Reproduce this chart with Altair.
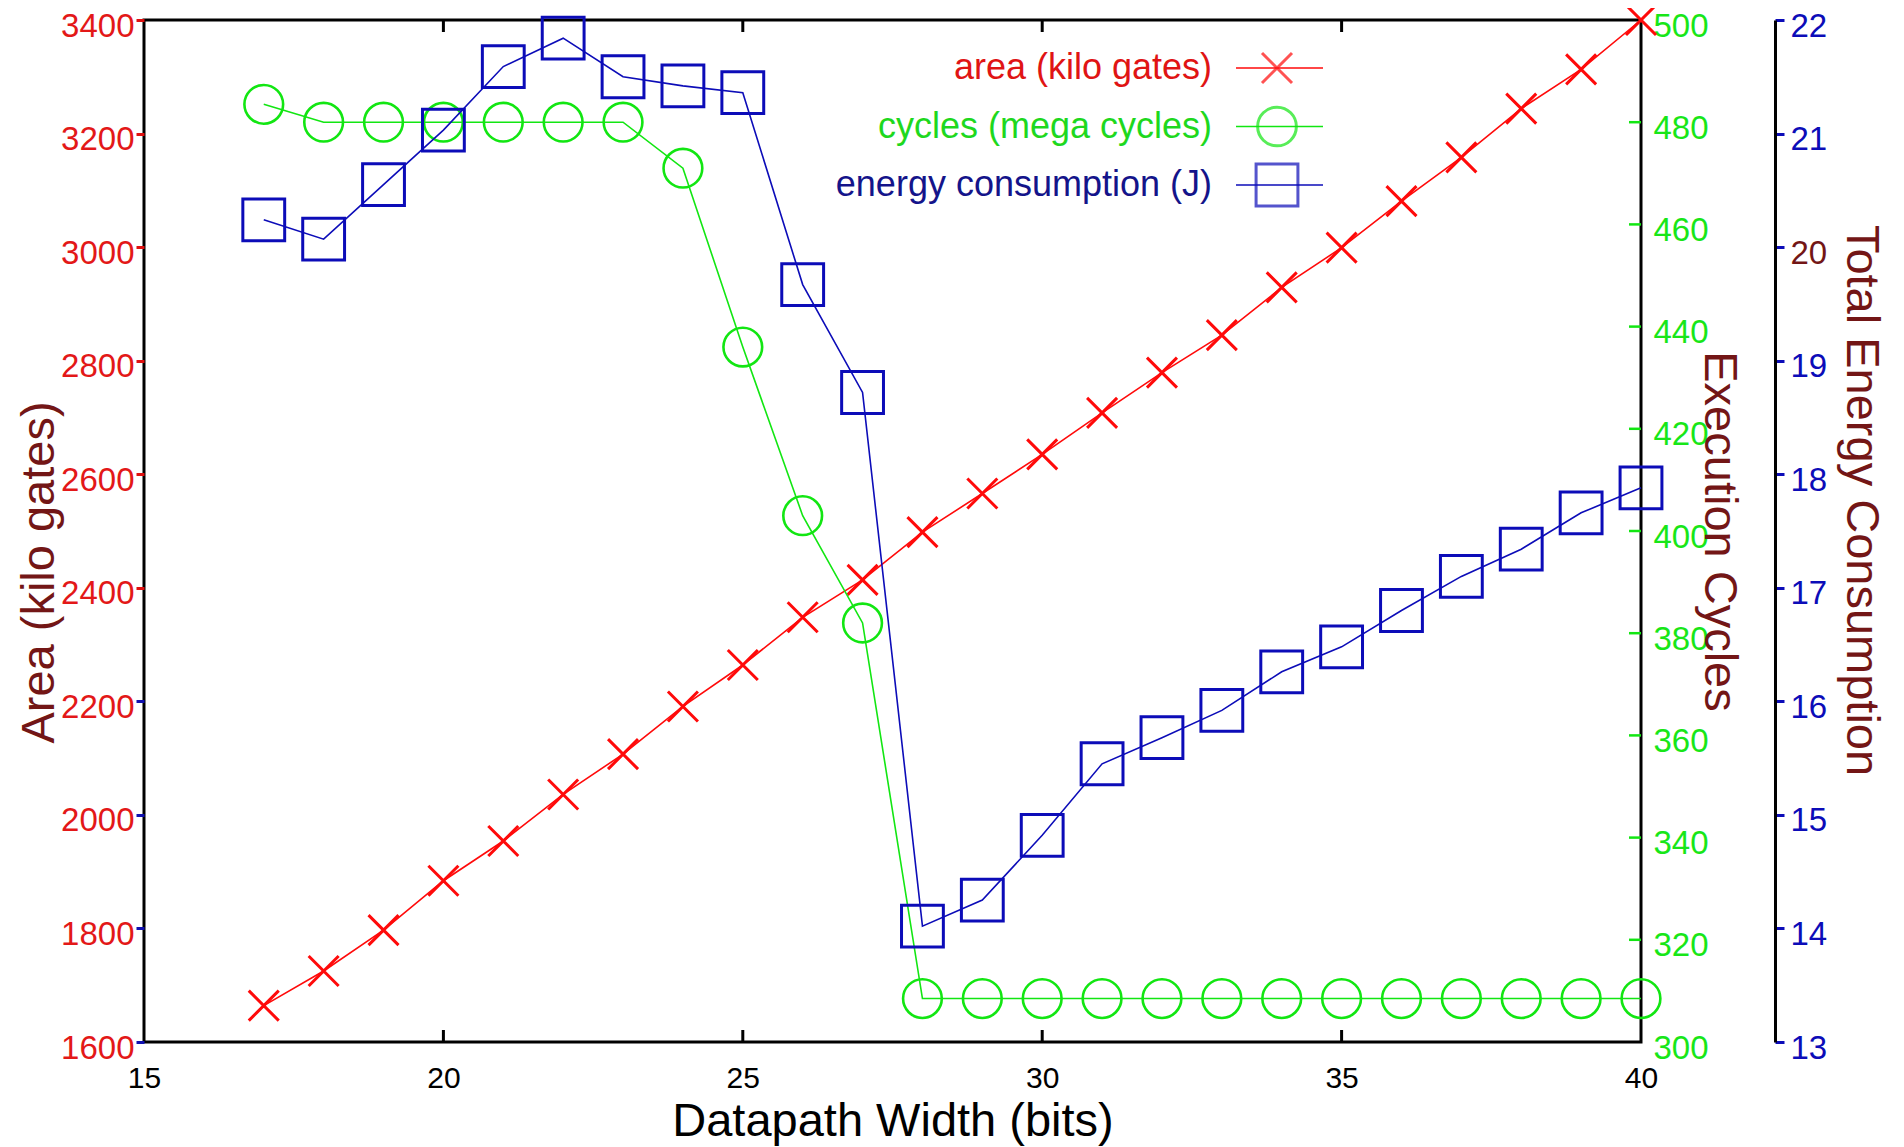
import altair as alt
import pandas as pd

# ---------------- data ----------------
widths = list(range(17, 41))
area_kgates = [1664, 1725, 1797, 1884, 1954, 2036, 2107, 2191, 2264, 2348, 2414, 2498,
               2566, 2635, 2708, 2779, 2845, 2929, 2999, 3081, 3158, 3244, 3313, 3400]
cycles_mega = [483.5, 480, 480, 480, 480, 480, 480, 471, 436, 403, 382, 308.5,
               308.5, 308.5, 308.5, 308.5, 308.5, 308.5, 308.5, 308.5, 308.5, 308.5, 308.5, 308.5]
energy_j = [20.24, 20.07, 20.55, 21.03, 21.59, 21.84, 21.5, 21.42, 21.36, 19.67, 18.72, 14.02,
            14.25, 14.82, 15.45, 15.68, 15.92, 16.26, 16.48, 16.8, 17.1, 17.34, 17.66, 17.88]

x_ticks = [15, 20, 25, 30, 35, 40]
x_inner_ticks = [20, 25, 30, 35]
area_ticks = [1600, 1800, 2000, 2200, 2400, 2600, 2800, 3000, 3200, 3400]
cycle_ticks = [300, 320, 340, 360, 380, 400, 420, 440, 460, 480, 500]
cycle_inner_ticks = [320, 340, 360, 380, 400, 420, 440, 460, 480]
energy_ticks = [13, 14, 15, 16, 17, 18, 19, 20, 21, 22]

legend_labels = ["area (kilo gates)", "cycles (mega cycles)", "energy consumption (J)"]

# ---------------- style ----------------
W, H = 1497, 1022
FONT = "Liberation Sans"
RED = "#ff0a0a"
GREEN = "#12e612"
BLUE = "#0c0cb8"
MAROON = "#731616"
X_PATH = "M-1,-1L1,1M-1,1L1,-1"
TICK_FS = 33
TITLE_FS = 47

df = pd.DataFrame({"w": widths, "area": area_kgates, "cycles": cycles_mega, "energy": energy_j})

x_axis = alt.Axis(values=x_ticks, tickSize=0, domain=False, grid=False, format="d",
                  labelFontSize=30, labelColor="black", labelPadding=21,
                  labelFlush=False, labelOverlap=False,
                  title="Datapath Width (bits)", titleFontSize=TITLE_FS, titleColor="black",
                  titleFontWeight="normal", titleY=93, titleBaseline="alphabetic")
x_scale = alt.Scale(domain=[15, 40], nice=False, zero=False)


def xenc(field):
    return alt.X(field, type="quantitative", scale=x_scale, axis=x_axis)


area_layer = alt.Chart(df).mark_line(
    color=RED, strokeWidth=1.6,
    point=alt.OverlayMarkDef(shape=X_PATH, filled=False, size=900, strokeWidth=3, color=RED)
).encode(
    x=xenc("w"),
    y=alt.Y("area:Q", scale=alt.Scale(domain=[1600, 3400], nice=False, zero=False),
            axis=alt.Axis(orient="left", values=area_ticks, grid=False, domain=False, format="d",
                          tickSize=8, tickWidth=3,
                          tickColor={"condition": {"test": "datum.value <= 2200", "value": "#1010b0"},
                                     "value": "#e01010"},
                          labelFontSize=TICK_FS, labelColor="#e31818", labelPadding=2, labelOffset=6,
                          labelOverlap=False, labelFlush=False,
                          title="Area (kilo gates)", titleFontSize=TITLE_FS, titleColor=MAROON,
                          titleFontWeight="normal", titleAngle=270, titleX=-105, titleY=552,
                          titleAlign="center", titleBaseline="middle")),
)

cycles_layer = alt.Chart(df).mark_line(
    color=GREEN, strokeWidth=1.6,
    point=alt.OverlayMarkDef(shape="circle", filled=False, size=1500, strokeWidth=2.6, color=GREEN)
).encode(
    x=xenc("w"),
    y=alt.Y("cycles:Q", scale=alt.Scale(domain=[300, 500], nice=False, zero=False),
            axis=alt.Axis(orient="right", values=cycle_ticks, grid=False, domain=False, format="d",
                          tickSize=0, labelFontSize=TICK_FS, labelColor="#18e618",
                          labelPadding=12, labelOffset=6, labelOverlap=False, labelFlush=False,
                          title="Execution Cycles", titleFontSize=TITLE_FS, titleColor=MAROON,
                          titleFontWeight="normal", titleAngle=90, titleX=77, titleY=511,
                          titleAlign="center", titleBaseline="middle")),
)

energy_layer = alt.Chart(df).mark_line(
    color=BLUE, strokeWidth=1.6,
    point=alt.OverlayMarkDef(shape="square", filled=False, size=1750, strokeWidth=3, color=BLUE)
).encode(
    x=xenc("w"),
    y=alt.Y("energy:Q", scale=alt.Scale(domain=[13, 22], nice=False, zero=False),
            axis=alt.Axis(orient="right", offset=134, values=energy_ticks, grid=False, format="d",
                          domain=True, domainColor="black", domainWidth=3,
                          tickSize=9, tickWidth=3, tickColor=BLUE,
                          labelFontSize=TICK_FS,
                          labelColor={"condition": {"test": "datum.value == 20", "value": MAROON},
                                      "value": BLUE},
                          labelPadding=6, labelOffset=6, labelOverlap=False, labelFlush=False,
                          title="Total Energy Consumption", titleFontSize=TITLE_FS, titleColor=MAROON,
                          titleFontWeight="normal", titleAngle=90, titleX=85, titleY=480,
                          titleAlign="center", titleBaseline="middle")),
)

# inward tick marks (bottom, top and the cycles axis)
xt = pd.DataFrame({"t": x_inner_ticks})
bottom_ticks = alt.Chart(xt).mark_rule(color="black", strokeWidth=3).encode(
    x=xenc("t"), y=alt.value(H - 12), y2=alt.value(H))
top_ticks = alt.Chart(xt).mark_rule(color="black", strokeWidth=3).encode(
    x=xenc("t"), y=alt.value(0), y2=alt.value(12))
ct = pd.DataFrame({"c": cycle_inner_ticks})
cycle_inner = alt.Chart(ct).mark_rule(color=GREEN, strokeWidth=2.5).encode(
    y=alt.Y("c:Q", scale=alt.Scale(domain=[300, 500], nice=False, zero=False), axis=None),
    x=alt.value(W - 12), x2=alt.value(W))

# legend (top right, label left of symbol)
leg = pd.DataFrame({
    "label": legend_labels,
    "textcolor": ["#e01414", "#1ed81e", "#14148a"],
    "color": [RED, GREEN, BLUE],
    "shape": [X_PATH, "circle", "square"],
    "size": [900, 1500, 1750],
    "row": [0, 1, 2],
})
leg["ypix"] = 48 + leg["row"] * 58.5
pix = alt.Scale(domain=[0, H], range=[0, H])
leg_text = alt.Chart(leg).mark_text(align="right", baseline="middle", fontSize=36, font=FONT).encode(
    x=alt.value(1068), y=alt.Y("ypix:Q", scale=pix, axis=None),
    text="label:N", color=alt.Color("textcolor:N", scale=None))
leg_line = alt.Chart(leg).mark_rule(strokeWidth=1.6).encode(
    x=alt.value(1092), x2=alt.value(1179), y=alt.Y("ypix:Q", scale=pix, axis=None),
    color=alt.Color("color:N", scale=None))
leg_pt = alt.Chart(leg).mark_point(filled=False, strokeWidth=3).encode(
    x=alt.value(1133), y=alt.Y("ypix:Q", scale=pix, axis=None),
    shape=alt.Shape("shape:N", scale=None), size=alt.Size("size:Q", scale=None),
    color=alt.Color("color:N", scale=None))

chart = alt.layer(
    area_layer, cycles_layer, energy_layer,
    bottom_ticks, top_ticks, cycle_inner,
    leg_line, leg_pt, leg_text,
).resolve_scale(y="independent").properties(
    width=W, height=H,
    autosize=alt.AutoSizeParams(type="none"),
    padding={"left": 136, "top": 12, "right": 254, "bottom": 104},
).configure(font=FONT).configure_view(stroke="black", strokeWidth=3)

chart.save("out.html", embed_options={"renderer": "svg", "actions": False})
